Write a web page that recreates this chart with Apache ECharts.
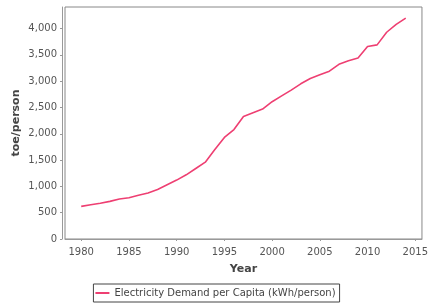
<!DOCTYPE html>
<html>
<head>
<meta charset="utf-8">
<script src="https://cdn.jsdelivr.net/npm/echarts@6/dist/echarts.min.js"></script>
<style>
html, body { margin: 0; padding: 0; background: #fff; }
#chart { width: 431px; height: 306px; }
</style>
</head>
<body>
<div id="chart"></div>
<script>
// data
var years = [1980, 1981, 1982, 1983, 1984, 1985, 1986, 1987, 1988, 1989,
	1990, 1991, 1992, 1993, 1994, 1995, 1996, 1997, 1998, 1999,
	2000, 2001, 2002, 2003, 2004, 2005, 2006, 2007, 2008, 2009,
	2010, 2011, 2012, 2013, 2014];
var demand = [620, 650, 680, 715, 760, 785, 830, 875, 940, 1030,
	1120, 1220, 1340, 1460, 1700, 1930, 2080, 2330, 2400, 2470,
	2610, 2720, 2830, 2950, 3050, 3120, 3190, 3320, 3390, 3440,
	3660, 3690, 3930, 4080, 4200];
var xTicks = [1980, 1985, 1990, 1995, 2000, 2005, 2010, 2015];
var yTicks = [0, 500, 1000, 1500, 2000, 2500, 3000, 3500, 4000];
var seriesName = 'Electricity Demand per Capita (kWh/person)';

var points = [];
for (var i = 0; i < years.length; i++) {
	points.push([years[i], demand[i]]);
}

var chart = echarts.init(document.getElementById('chart'));
var option = {
	animation: false,
	grid: {
		left: 65,
		right: 9,
		top: 7,
		bottom: 67,
		show: true,
		borderColor: '#888',
		borderWidth: 1,
		backgroundColor: '#fff'
	},
	xAxis: {
		type: 'value',
		min: 1978.3,
		max: 2015.7,
		offset: 3,
		name: 'Year',
		nameLocation: 'middle',
		nameGap: 22,
		nameMoveOverlap: false,
		nameTextStyle: { fontFamily: 'DejaVu Sans', fontSize: 11, fontWeight: 'bold', color: '#444' },
		splitLine: { show: false },
		axisLine: { show: true, lineStyle: { color: '#999' } },
		axisTick: { show: true, length: 2, customValues: xTicks, lineStyle: { color: '#999' } },
		axisLabel: {
			customValues: xTicks,
			margin: 5,
			fontFamily: 'DejaVu Sans',
			fontSize: 10,
			color: '#555',
			formatter: function (v) { return String(v); }
		}
	},
	yAxis: {
		type: 'value',
		min: 0,
		max: 4410,
		offset: 3,
		name: 'toe/person',
		nameLocation: 'middle',
		nameGap: 40,
		nameMoveOverlap: false,
		nameTextStyle: { fontFamily: 'DejaVu Sans', fontSize: 11, fontWeight: 'bold', color: '#444' },
		splitLine: { show: false },
		axisLine: { show: true, lineStyle: { color: '#999' } },
		axisTick: { show: true, length: 2, customValues: yTicks, lineStyle: { color: '#999' } },
		axisLabel: {
			customValues: yTicks,
			margin: 5,
			fontFamily: 'DejaVu Sans',
			fontSize: 10,
			color: '#555',
			formatter: function (v) { return v.toLocaleString('en-US'); }
		}
	},
	legend: {
		bottom: 4,
		left: 'center',
		data: [seriesName],
		icon: 'rect',
		itemWidth: 14,
		itemHeight: 2,
		padding: [4, 4, 4, 2],
		borderColor: '#444',
		borderWidth: 1,
		textStyle: { fontFamily: 'DejaVu Sans', fontSize: 10, color: '#444' }
	},
	series: [{
		name: seriesName,
		type: 'line',
		data: points,
		symbol: 'none',
		color: '#ee3f72',
		lineStyle: { width: 1.6, color: '#ee3f72' }
	}]
};
chart.setOption(option);
</script>
</body>
</html>
